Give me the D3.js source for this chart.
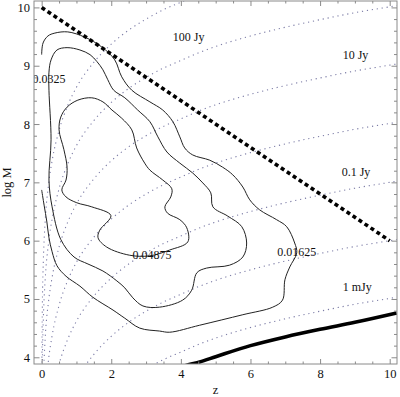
<!DOCTYPE html>
<html><head><meta charset="utf-8">
<script src="https://cdn.jsdelivr.net/npm/d3@7"></script>
<style>
html,body{margin:0;padding:0;background:#fff;}
svg text{font-family:"Liberation Serif","Times New Roman",serif;}
</style></head><body>
<svg id="c" width="400" height="397"></svg>
<script>
// ---------------- data ----------------
// redshift grid on which the constant-flux lines were read
const zGrid = [0.005, 0.01, 0.02, 0.05, 0.1, 0.2, 0.3, 0.5, 0.75, 1, 1.5, 2, 2.5, 3, 3.5, 4, 4.5, 5, 6, 7, 8, 9, 10, 10.2];
// log M along each constant-flux line (null = outside the frame)
const flux1000Jy = [3.65, 4.26, 4.87, 5.68, 6.32, 6.97, 7.37, 7.89, 8.32, 8.63, 9.06, 9.37, 9.61, 9.80, 9.96, 10.09, 10.22, null, null, null, null, null, null, null];
const flux100Jy  = [null, 3.26, 3.87, 4.68, 5.32, 5.97, 6.37, 6.89, 7.32, 7.63, 8.06, 8.37, 8.61, 8.80, 8.96, 9.09, 9.22, 9.33, 9.51, 9.66, 9.79, 9.91, 10.01, 10.03];
const flux10Jy   = [null, null, null, 3.68, 4.32, 4.97, 5.37, 5.89, 6.32, 6.63, 7.06, 7.37, 7.61, 7.80, 7.96, 8.09, 8.22, 8.33, 8.51, 8.66, 8.79, 8.91, 9.01, 9.03];
const flux1Jy    = [null, null, null, null, 3.32, 3.97, 4.37, 4.89, 5.32, 5.63, 6.06, 6.37, 6.61, 6.80, 6.96, 7.09, 7.22, 7.33, 7.51, 7.66, 7.79, 7.91, 8.01, 8.03];
const flux01Jy   = [null, null, null, null, null, null, 3.36, 3.88, 4.31, 4.62, 5.05, 5.36, 5.60, 5.79, 5.95, 6.08, 6.21, 6.32, 6.50, 6.65, 6.78, 6.90, 7.00, 7.02];
const flux10mJy  = [null, null, null, null, null, null, null, null, 3.31, 3.62, 4.05, 4.36, 4.60, 4.79, 4.95, 5.08, 5.21, 5.32, 5.50, 5.65, 5.78, 5.90, 6.00, 6.02];
const flux1mJy   = [null, null, null, null, null, null, null, null, null, null, null, 3.37, 3.61, 3.80, 3.96, 4.09, 4.22, 4.33, 4.51, 4.66, 4.79, 4.91, 5.01, 5.03];
const fluxLabels = ["100 Jy", "10 Jy", "0.1 Jy", "1 mJy"];

// density contours [z, log M]
const contourLevels = ["0.01625", "0.0325", "0.04875"];
const contourOuter = [[0.00,9.19],[0.04,9.39],[0.18,9.51],[0.38,9.56],[0.75,9.58],[1.24,9.49],[1.73,9.32],[2.10,9.10],[2.30,8.81],[2.59,8.58],[3.11,8.38],[3.48,8.24],[3.77,8.04],[3.97,7.78],[4.11,7.59],[4.34,7.47],[4.83,7.38],[5.20,7.26],[5.49,7.13],[5.78,6.92],[5.98,6.70],[6.26,6.53],[6.75,6.36],[7.04,6.24],[7.27,5.96],[7.33,5.79],[7.13,5.55],[6.99,5.33],[6.92,4.98],[6.64,4.86],[5.78,4.73],[4.54,4.55],[3.68,4.43],[3.39,4.45],[2.82,4.50],[2.39,4.67],[2.05,4.81],[1.47,5.03],[1.10,5.22],[0.70,5.39],[0.44,5.57],[0.30,5.81],[0.21,6.05],[0.15,6.32],[0.07,6.61],[0.00,6.87]];
const contourMiddle = [[0.21,8.89],[0.27,9.10],[0.44,9.27],[0.73,9.31],[1.10,9.27],[1.39,9.19],[1.59,9.07],[1.76,8.93],[1.90,8.76],[2.07,8.58],[2.39,8.45],[2.76,8.24],[3.11,8.04],[3.34,7.78],[3.60,7.52],[3.97,7.33],[4.34,7.16],[4.63,6.99],[4.86,6.82],[4.92,6.58],[5.35,6.42],[5.75,6.24],[5.89,5.96],[5.78,5.72],[5.40,5.58],[4.74,5.53],[4.46,5.45],[4.31,5.15],[4.05,4.98],[3.39,4.86],[2.91,4.88],[2.62,5.02],[2.39,5.19],[2.16,5.31],[1.76,5.48],[1.33,5.60],[0.93,5.72],[0.55,6.02],[0.30,6.58],[0.21,7.04],[0.27,7.73],[0.21,8.58]];
const contourInner = [[0.50,7.90],[0.55,8.12],[0.73,8.29],[1.04,8.41],[1.44,8.45],[1.76,8.38],[2.02,8.24],[2.30,8.10],[2.59,7.90],[2.73,7.59],[2.96,7.33],[3.11,7.21],[3.48,7.04],[3.74,6.89],[3.71,6.75],[3.54,6.58],[3.62,6.47],[3.97,6.36],[4.17,6.22],[4.20,5.98],[3.68,5.84],[3.11,5.74],[2.53,5.75],[1.87,5.89],[1.62,6.05],[1.67,6.18],[1.99,6.43],[1.44,6.58],[1.01,6.65],[0.70,6.75],[0.58,6.87],[0.70,7.04],[0.73,7.26],[0.64,7.56]];

// upper limit (thick dashed) and lower limit (thick solid)
const upperLimit = [[0, 10], [10, 6]];
const lowerLimit = [[4.0,3.83],[4.15,3.86],[4.54,3.92],[5.0,4.01],[6.0,4.20],[7.0,4.35],[8.0,4.48],[9.0,4.60],[10.2,4.76]];

// ticks
const xMajorTicks = [0, 2, 4, 6, 8, 10];
const yMajorTicks = [4, 5, 6, 7, 8, 9, 10];

// ---------------- layout ----------------
const frame = {left: 34, right: 397, top: 1, bottom: 364};
const x = d3.scaleLinear().domain([-0.22, 10.21]).range([frame.left, frame.right]);
const y = d3.scaleLinear().domain([3.885, 10.11]).range([frame.bottom, frame.top]);
const svg = d3.select('#c');
const FONT = 12;

svg.append('defs').append('clipPath').attr('id', 'clip').append('rect')
  .attr('x', frame.left).attr('y', frame.top)
  .attr('width', frame.right - frame.left).attr('height', frame.bottom - frame.top);
const plot = svg.append('g').attr('clip-path', 'url(#clip)');

// constant flux lines
const fluxSeries = [flux1000Jy, flux100Jy, flux10Jy, flux1Jy, flux01Jy, flux10mJy, flux1mJy];
const fluxLine = d3.line().defined(d => d[1] != null)
  .x(d => x(d[0])).y(d => y(d[1])).curve(d3.curveMonotoneX);
fluxSeries.forEach(s => {
  plot.append('path').datum(zGrid.map((z, i) => [z, s[i]]))
    .attr('d', fluxLine).attr('fill', 'none')
    .attr('stroke', '#7c7ca6').attr('stroke-width', 1.1)
    .attr('stroke-dasharray', '1.2,3.8');
});

// contours
const openLine = d3.line().x(d => x(d[0])).y(d => y(d[1])).curve(d3.curveCatmullRom.alpha(0.5));
const closedLine = d3.line().x(d => x(d[0])).y(d => y(d[1])).curve(d3.curveCatmullRomClosed.alpha(0.5));
plot.append('path').attr('d', openLine(contourOuter)).attr('fill', 'none').attr('stroke', '#222').attr('stroke-width', 1);
plot.append('path').attr('d', closedLine(contourMiddle)).attr('fill', 'none').attr('stroke', '#222').attr('stroke-width', 1);
plot.append('path').attr('d', closedLine(contourInner)).attr('fill', 'none').attr('stroke', '#222').attr('stroke-width', 1);

// limits
const straight = d3.line().x(d => x(d[0])).y(d => y(d[1]));
plot.append('path').attr('d', straight(upperLimit)).attr('fill', 'none')
  .attr('stroke', '#000').attr('stroke-width', 3.6).attr('stroke-dasharray', '4,3.2');
plot.append('path').attr('d', d3.line().x(d => x(d[0])).y(d => y(d[1])).curve(d3.curveMonotoneX)(lowerLimit))
  .attr('fill', 'none').attr('stroke', '#000').attr('stroke-width', 3.6);

// flux labels
const fluxLabelPos = [[3.77, 9.43], [8.65, 9.12], [8.62, 7.11], [8.65, 5.14]];
fluxLabels.forEach((t, i) => {
  svg.append('text').attr('x', x(fluxLabelPos[i][0])).attr('y', y(fluxLabelPos[i][1]))
    .attr('font-size', FONT).attr('fill', '#111').text(t);
});
// contour labels
const contourLabelPos = [[7.33, 5.74], [0.21, 8.70], [3.17, 5.69]];
contourLevels.forEach((t, i) => {
  plot.append('text').attr('x', x(contourLabelPos[i][0])).attr('y', y(contourLabelPos[i][1]))
    .attr('text-anchor', 'middle').attr('font-size', FONT).attr('fill', '#111').text(t);
});

// axes
const tickColor = '#8a8a8a';
function styleAxis(g) {
  g.select('.domain').remove();
  g.selectAll('.tick line').attr('stroke', tickColor);
  g.selectAll('.tick text').attr('fill', '#111').attr('font-size', 12.5)
    .attr('font-family', '"Liberation Serif","Times New Roman",serif');
}
const xMinor = d3.range(0, 10.21, 0.5).filter(v => !xMajorTicks.includes(v));
const yMinor = d3.range(4, 10.11, 0.2).map(v => +v.toFixed(1)).filter(v => !yMajorTicks.includes(v) && v <= 10.11);

svg.append('g').attr('transform', `translate(0,${frame.bottom})`)
  .call(d3.axisBottom(x).tickValues(xMajorTicks).tickSize(-5).tickSizeOuter(0).tickPadding(5).tickFormat(d3.format('d'))).call(styleAxis);
svg.append('g').attr('transform', `translate(0,${frame.bottom})`)
  .call(d3.axisBottom(x).tickValues(xMinor).tickSize(-2.5).tickSizeOuter(0).tickFormat('')).call(styleAxis);
svg.append('g').attr('transform', `translate(0,${frame.top})`)
  .call(d3.axisTop(x).tickValues(xMajorTicks).tickSize(-5).tickSizeOuter(0).tickFormat('')).call(styleAxis);
svg.append('g').attr('transform', `translate(0,${frame.top})`)
  .call(d3.axisTop(x).tickValues(xMinor).tickSize(-2.5).tickSizeOuter(0).tickFormat('')).call(styleAxis);

svg.append('g').attr('transform', `translate(${frame.left},0)`)
  .call(d3.axisLeft(y).tickValues(yMajorTicks).tickSize(-5.5).tickSizeOuter(0).tickPadding(4).tickFormat(d3.format('d'))).call(styleAxis);
svg.append('g').attr('transform', `translate(${frame.left},0)`)
  .call(d3.axisLeft(y).tickValues(yMinor).tickSize(-3).tickSizeOuter(0).tickFormat('')).call(styleAxis);
svg.append('g').attr('transform', `translate(${frame.right},0)`)
  .call(d3.axisRight(y).tickValues(yMajorTicks).tickSize(-5.5).tickSizeOuter(0).tickFormat('')).call(styleAxis);
svg.append('g').attr('transform', `translate(${frame.right},0)`)
  .call(d3.axisRight(y).tickValues(yMinor).tickSize(-3).tickSizeOuter(0).tickFormat('')).call(styleAxis);

// frame
svg.append('rect').attr('x', frame.left).attr('y', frame.top)
  .attr('width', frame.right - frame.left).attr('height', frame.bottom - frame.top)
  .attr('fill', 'none').attr('stroke', tickColor).attr('stroke-width', 1);

// axis titles
svg.append('text').attr('x', (frame.left + frame.right) / 2).attr('y', 394)
  .attr('text-anchor', 'middle').attr('font-size', 12.5).attr('fill', '#111').text('z');
svg.append('text').attr('transform', `translate(11,${(frame.top + frame.bottom) / 2}) rotate(-90)`)
  .attr('text-anchor', 'middle').attr('font-size', 12.5).attr('fill', '#111').text('log M');
</script>
</body></html>
